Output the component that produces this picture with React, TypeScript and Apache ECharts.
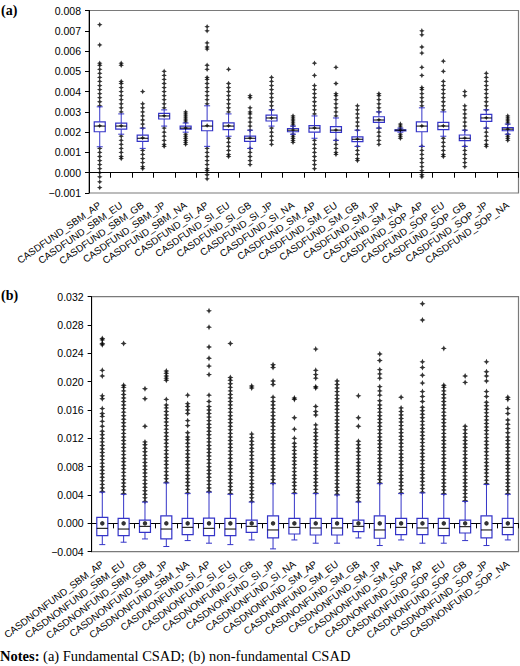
import React, { useEffect, useRef } from "react";
import * as echarts from "echarts";

// ---------- categories ----------
const catsA = [
  "CASDFUND_SBM_AP", "CASDFUND_SBM_EU", "CASDFUND_SBM_GB", "CASDFUND_SBM_JP", "CASDFUND_SBM_NA",
  "CASDFUND_SI_AP", "CASDFUND_SI_EU", "CASDFUND_SI_GB", "CASDFUND_SI_JP", "CASDFUND_SI_NA",
  "CASDFUND_SM_AP", "CASDFUND_SM_EU", "CASDFUND_SM_GB", "CASDFUND_SM_JP", "CASDFUND_SM_NA",
  "CASDFUND_SOP_AP", "CASDFUND_SOP_EU", "CASDFUND_SOP_GB", "CASDFUND_SOP_JP", "CASDFUND_SOP_NA",
];
const catsB = [
  "CASDNONFUND_SBM_AP", "CASDNONFUND_SBM_EU", "CASDNONFUND_SBM_GB", "CASDNONFUND_SBM_JP", "CASDNONFUND_SBM_NA",
  "CASDNONFUND_SI_AP", "CASDNONFUND_SI_EU", "CASDNONFUND_SI_GB", "CASDNONFUND_SI_JP", "CASDNONFUND_SI_NA",
  "CASDNONFUND_SM_AP", "CASDNONFUND_SM_EU", "CASDNONFUND_SM_GB", "CASDNONFUND_SM_JP", "CASDNONFUND_SM_NA",
  "CASDNONFUND_SOP_AP", "CASDNONFUND_SOP_EU", "CASDNONFUND_SOP_GB", "CASDNONFUND_SOP_JP", "CASDNONFUND_SOP_NA",
];

// ---------- (a) fundamental CSAD box statistics ----------
const lowA = [0.00128, 0.0019, 0.0012, 0.0023, 0.002, 0.0013, 0.0018, 0.0012, 0.0023, 0.0019, 0.0017, 0.0016, 0.0013, 0.0022, 0.002, 0.0013, 0.0018, 0.0013, 0.0022, 0.0019];
const q1A = [0.00202, 0.00215, 0.00155, 0.00265, 0.00215, 0.00207, 0.00213, 0.00155, 0.00255, 0.00202, 0.002, 0.00199, 0.00153, 0.00248, 0.00206, 0.00202, 0.00213, 0.00158, 0.00253, 0.00207];
const medA = [0.0023, 0.0023, 0.0017, 0.0028, 0.0022, 0.0023, 0.0023, 0.0017, 0.0027, 0.0021, 0.0022, 0.0021, 0.00165, 0.0026, 0.0021, 0.0023, 0.0023, 0.0017, 0.0027, 0.00215];
const q3A = [0.00251, 0.00245, 0.00185, 0.00293, 0.0023, 0.00256, 0.00246, 0.0018, 0.00284, 0.00218, 0.00232, 0.00227, 0.00177, 0.00276, 0.00212, 0.00251, 0.00248, 0.00186, 0.00288, 0.00222];
const highA = [0.00325, 0.0029, 0.0022, 0.0031, 0.00245, 0.0033, 0.0029, 0.0021, 0.0031, 0.0023, 0.0028, 0.0027, 0.0021, 0.003, 0.0022, 0.0032, 0.003, 0.0021, 0.0031, 0.0024];
const meanA = [0.00232, 0.00232, 0.00172, 0.00281, 0.00221, 0.00233, 0.00232, 0.00171, 0.0027, 0.00211, 0.00221, 0.00211, 0.00166, 0.00261, 0.0021, 0.00231, 0.00232, 0.00171, 0.00271, 0.00215];

const outA: number[][] = [
  [0.0033, 0.0035, 0.0037, 0.0039, 0.0041, 0.0043, 0.0045, 0.0047, 0.0049, 0.0051, 0.0053, 0.0054, 0.0063, 0.0073, 0.0012, 0.001, 0.0008, 0.0006, 0.0004, 0.0002, 0.0, -0.0002, -0.00045, -0.00073],
  [0.003, 0.0032, 0.0034, 0.0036, 0.0038, 0.004, 0.0042, 0.0044, 0.0045, 0.0053, 0.0054, 0.0018, 0.0016, 0.0014, 0.0012, 0.001, 0.0008, 0.0007],
  [0.0022, 0.0024, 0.0026, 0.0028, 0.003, 0.0032, 0.0034, 0.004, 0.0011, 0.0009, 0.0007, 0.0005, 0.0003, 0.0002],
  [0.0032, 0.0034, 0.0036, 0.0038, 0.004, 0.0042, 0.0044, 0.0046, 0.0048, 0.005, 0.0022, 0.002, 0.0018, 0.0016, 0.0014, 0.0013],
  [0.0025, 0.0026, 0.0027, 0.0028, 0.0029, 0.003, 0.0019, 0.0018, 0.0017, 0.0016, 0.0015, 0.0014],
  [0.0034, 0.0036, 0.0038, 0.004, 0.0042, 0.0044, 0.0046, 0.0047, 0.0051, 0.0053, 0.0061, 0.0062, 0.0064, 0.007, 0.0072, 0.0012, 0.001, 0.0008, 0.0006, 0.0004, 0.0002, 0.0001, -0.0001, -0.0003],
  [0.003, 0.0032, 0.0034, 0.0036, 0.0038, 0.004, 0.0042, 0.0044, 0.0051, 0.0017, 0.0015, 0.0013, 0.0011, 0.0009, 0.0008],
  [0.0021, 0.0023, 0.0025, 0.0027, 0.0029, 0.003, 0.0032, 0.0037, 0.0038, 0.0012, 0.001, 0.0008, 0.0006, 0.0004],
  [0.0031, 0.0033, 0.0035, 0.0037, 0.0039, 0.0041, 0.0043, 0.0045, 0.0047, 0.0022, 0.002, 0.0018, 0.0016, 0.0014],
  [0.0023, 0.0024, 0.0025, 0.0026, 0.0027, 0.0028, 0.0019, 0.0018, 0.0017, 0.0016, 0.0015],
  [0.0029, 0.0031, 0.0033, 0.0035, 0.0037, 0.0039, 0.0041, 0.0043, 0.0048, 0.0054, 0.0016, 0.0014, 0.0012, 0.001, 0.0008, 0.0006, 0.0004, 0.0002],
  [0.0028, 0.003, 0.0032, 0.0034, 0.0036, 0.0038, 0.0039, 0.0044, 0.0052, 0.0016, 0.0014, 0.0012, 0.001, 0.0009],
  [0.0021, 0.0023, 0.0025, 0.0027, 0.0029, 0.0031, 0.0033, 0.0013, 0.0011, 0.0009, 0.0007, 0.0006],
  [0.003, 0.0032, 0.0034, 0.0036, 0.0038, 0.0039, 0.0022, 0.002, 0.0018, 0.0016, 0.0014],
  [0.0022, 0.0023, 0.0024, 0.0019, 0.0018, 0.0017],
  [0.0033, 0.0035, 0.0037, 0.0039, 0.0041, 0.0042, 0.0048, 0.0052, 0.0059, 0.0062, 0.0068, 0.007, 0.0013, 0.0011, 0.0009, 0.0007, 0.0005, 0.0003, 0.0001, -0.0001, -0.0002],
  [0.0031, 0.0033, 0.0035, 0.0037, 0.0039, 0.0041, 0.0043, 0.0045, 0.005, 0.0055, 0.0017, 0.0015, 0.0013, 0.0011, 0.0009, 0.0008],
  [0.0021, 0.0023, 0.0025, 0.0027, 0.0029, 0.0031, 0.0033, 0.0038, 0.004, 0.0013, 0.0011, 0.0009, 0.0007, 0.0005, 0.0003],
  [0.0031, 0.0033, 0.0035, 0.0037, 0.0039, 0.0041, 0.0043, 0.0045, 0.0047, 0.0049, 0.0022, 0.002, 0.0018, 0.0016, 0.0014, 0.0013],
  [0.0024, 0.0025, 0.0026, 0.0027, 0.0028, 0.0019, 0.0018, 0.0017, 0.0016],
];

// ---------- (b) non-fundamental CSAD box statistics ----------
const lowB = [-0.003, -0.00266, -0.0022, -0.00327, -0.00243, -0.0028, -0.003, -0.00234, -0.0036, -0.00234, -0.0028, -0.0028, -0.00206, -0.00313, -0.00234, -0.0028, -0.0028, -0.00243, -0.00313, -0.00234];
const q1B = [-0.00173, -0.00173, -0.00126, -0.0022, -0.00159, -0.00173, -0.00173, -0.00126, -0.00206, -0.0015, -0.00164, -0.00164, -0.00117, -0.0021, -0.00159, -0.00159, -0.00173, -0.00136, -0.00206, -0.00159];
const medB = [-0.0007, -0.0008, -0.00042, -0.0008, -0.00056, -0.0007, -0.0008, -0.00042, -0.00093, -0.00056, -0.00065, -0.00065, -0.00042, -0.00093, -0.00056, -0.00065, -0.0007, -0.00047, -0.00093, -0.00056];
const q3B = [0.00084, 0.0007, 0.00047, 0.00107, 0.0007, 0.00075, 0.0007, 0.00047, 0.00107, 0.0007, 0.0007, 0.0007, 0.00047, 0.00107, 0.0007, 0.0007, 0.0007, 0.00047, 0.00107, 0.0007];
const highB = [0.0044, 0.0041, 0.003, 0.0057, 0.0042, 0.0044, 0.0041, 0.003, 0.0056, 0.0042, 0.0042, 0.004, 0.003, 0.0056, 0.0042, 0.0043, 0.0041, 0.0031, 0.0055, 0.0041];
const meanB = [0, 0, 0, 0, 0, 0, 0, 0, 0, 0, 0, 0, 0, 0, 0, 0, 0, 0, 0, 0];

const outB: number[][] = [
  [0.0045, 0.005, 0.0055, 0.006, 0.0065, 0.007, 0.0075, 0.008, 0.0085, 0.009, 0.0095, 0.01, 0.0105, 0.011, 0.0115, 0.012, 0.0125, 0.013, 0.0137, 0.0144, 0.0151, 0.0155, 0.0162, 0.0176, 0.018, 0.0208, 0.0216, 0.0252, 0.0254, 0.0259, 0.0261],
  [0.0042, 0.0047, 0.0052, 0.0057, 0.0062, 0.0067, 0.0072, 0.0077, 0.0082, 0.0087, 0.0092, 0.0097, 0.0102, 0.0107, 0.0112, 0.0117, 0.0122, 0.0127, 0.0132, 0.0137, 0.0142, 0.0147, 0.0152, 0.0157, 0.0162, 0.0167, 0.0172, 0.0177, 0.0182, 0.0187, 0.0192, 0.0195, 0.0254],
  [0.0031, 0.0036, 0.0041, 0.0046, 0.0051, 0.0056, 0.0061, 0.0066, 0.0071, 0.0076, 0.0081, 0.0086, 0.0091, 0.0096, 0.0101, 0.0106, 0.0111, 0.0115, 0.0137, 0.0176, 0.019],
  [0.0058, 0.0063, 0.0068, 0.0073, 0.0078, 0.0083, 0.0088, 0.0093, 0.0098, 0.0103, 0.0108, 0.0113, 0.0118, 0.0123, 0.0128, 0.0133, 0.0138, 0.0143, 0.0148, 0.0153, 0.0158, 0.0163, 0.0167, 0.0175, 0.0202, 0.0205, 0.0208, 0.0212, 0.0215],
  [0.0043, 0.0048, 0.0053, 0.0058, 0.0063, 0.0068, 0.0073, 0.0078, 0.0083, 0.0088, 0.0093, 0.0098, 0.0103, 0.0108, 0.0113, 0.0118, 0.0122, 0.0128, 0.0138, 0.0145, 0.0155, 0.016, 0.0165, 0.0169, 0.0181],
  [0.0045, 0.005, 0.0055, 0.006, 0.0065, 0.007, 0.0075, 0.008, 0.0085, 0.009, 0.0095, 0.01, 0.0105, 0.011, 0.0115, 0.012, 0.0125, 0.013, 0.0135, 0.014, 0.0145, 0.015, 0.0155, 0.016, 0.0165, 0.0172, 0.0181, 0.021, 0.0222, 0.0233, 0.0249, 0.0277, 0.03],
  [0.0042, 0.0047, 0.0052, 0.0057, 0.0062, 0.0067, 0.0072, 0.0077, 0.0082, 0.0087, 0.0092, 0.0097, 0.0102, 0.0107, 0.0112, 0.0117, 0.0122, 0.0127, 0.0132, 0.0137, 0.0142, 0.0147, 0.0152, 0.0157, 0.0162, 0.0167, 0.0172, 0.0177, 0.0182, 0.0187, 0.0192, 0.0197, 0.0202, 0.0206, 0.0254],
  [0.0031, 0.0036, 0.0041, 0.0046, 0.0051, 0.0056, 0.0061, 0.0066, 0.0071, 0.0076, 0.0081, 0.0086, 0.0091, 0.0096, 0.0101, 0.0106, 0.0111, 0.0116, 0.0121, 0.0126, 0.0191, 0.0194],
  [0.0057, 0.0062, 0.0067, 0.0072, 0.0077, 0.0082, 0.0087, 0.0092, 0.0097, 0.0102, 0.0107, 0.0112, 0.0117, 0.0122, 0.0127, 0.0132, 0.0137, 0.0142, 0.0147, 0.0152, 0.0157, 0.0162, 0.0167, 0.0172, 0.0178, 0.0196, 0.0201, 0.022, 0.0224],
  [0.0043, 0.0048, 0.0053, 0.0058, 0.0063, 0.0068, 0.0073, 0.0078, 0.0083, 0.0088, 0.0093, 0.0098, 0.0103, 0.0108, 0.0113, 0.012, 0.0133, 0.0149, 0.0175, 0.0177],
  [0.0043, 0.0048, 0.0053, 0.0058, 0.0063, 0.0068, 0.0073, 0.0078, 0.0083, 0.0088, 0.0093, 0.0098, 0.0103, 0.0108, 0.0113, 0.0118, 0.0123, 0.0128, 0.0133, 0.0139, 0.0153, 0.0158, 0.0165, 0.0191, 0.0193, 0.0205, 0.021, 0.0216, 0.0246],
  [0.0041, 0.0046, 0.0051, 0.0056, 0.0061, 0.0066, 0.0071, 0.0076, 0.0081, 0.0086, 0.0091, 0.0096, 0.0101, 0.0106, 0.0111, 0.0116, 0.0121, 0.0126, 0.0131, 0.0136, 0.0141, 0.0146, 0.0151, 0.0156, 0.0161, 0.0166, 0.0171, 0.0176, 0.0181, 0.0186, 0.0191, 0.0196, 0.0201],
  [0.0031, 0.0036, 0.0041, 0.0046, 0.0051, 0.0056, 0.0061, 0.0066, 0.0071, 0.0076, 0.0081, 0.0086, 0.0091, 0.0096, 0.0101, 0.0106, 0.0111, 0.0116, 0.0137, 0.0149, 0.018],
  [0.0057, 0.0062, 0.0067, 0.0072, 0.0077, 0.0082, 0.0087, 0.0092, 0.0097, 0.0102, 0.0107, 0.0112, 0.0117, 0.0122, 0.0127, 0.0132, 0.0137, 0.0142, 0.0147, 0.0152, 0.0157, 0.0162, 0.0167, 0.0173, 0.0181, 0.0187, 0.0193, 0.0205, 0.0211, 0.0217, 0.023, 0.0239],
  [0.0043, 0.0048, 0.0053, 0.0058, 0.0063, 0.0068, 0.0073, 0.0078, 0.0083, 0.0088, 0.0093, 0.0098, 0.0103, 0.0108, 0.0113, 0.0118, 0.0123, 0.0128, 0.0133, 0.0138, 0.0143, 0.0148, 0.0153, 0.0158, 0.0163, 0.0178],
  [0.0044, 0.0049, 0.0054, 0.0059, 0.0064, 0.0069, 0.0074, 0.0079, 0.0084, 0.0089, 0.0094, 0.0099, 0.0104, 0.0109, 0.0114, 0.0119, 0.0124, 0.0129, 0.0134, 0.0139, 0.0144, 0.0149, 0.0154, 0.0159, 0.0164, 0.0172, 0.0179, 0.0186, 0.0198, 0.0209, 0.022, 0.0228, 0.0287, 0.031],
  [0.0042, 0.0047, 0.0052, 0.0057, 0.0062, 0.0067, 0.0072, 0.0077, 0.0082, 0.0087, 0.0092, 0.0097, 0.0102, 0.0107, 0.0112, 0.0117, 0.0122, 0.0127, 0.0132, 0.0137, 0.0142, 0.0147, 0.0152, 0.0157, 0.0162, 0.0167, 0.0172, 0.0177, 0.0182, 0.0187, 0.0192, 0.0195, 0.0247],
  [0.0032, 0.0037, 0.0042, 0.0047, 0.0052, 0.0057, 0.0062, 0.0067, 0.0072, 0.0077, 0.0082, 0.0087, 0.0092, 0.0097, 0.0102, 0.0107, 0.0112, 0.0117, 0.0122, 0.0127, 0.0132, 0.0137, 0.0199, 0.0208],
  [0.0056, 0.0061, 0.0066, 0.0071, 0.0076, 0.0081, 0.0086, 0.0091, 0.0096, 0.0101, 0.0106, 0.0111, 0.0116, 0.0121, 0.0126, 0.0131, 0.0136, 0.0141, 0.0146, 0.0151, 0.0156, 0.0161, 0.0166, 0.0171, 0.0179, 0.0186, 0.0201, 0.0208, 0.0214, 0.0228],
  [0.0042, 0.0047, 0.0052, 0.0057, 0.0062, 0.0067, 0.0072, 0.0077, 0.0082, 0.0087, 0.0092, 0.0097, 0.0102, 0.0107, 0.0112, 0.0117, 0.0122, 0.0128, 0.0134, 0.014, 0.0146, 0.0155, 0.0162, 0.0175, 0.0178],
];

// ---------- styling ----------
const BLUE = "#3434c8";
const SANS = "'Liberation Sans', Arial, Helvetica, sans-serif";
const SERIF = "'Liberation Serif', 'Times New Roman', serif";
// four-pointed star with a fat centre, used for outliers and means
const STAR = "path://M5,0 L6.6,3.4 L10,5 L6.6,6.6 L5,10 L3.4,6.6 L0,5 L3.4,3.4 Z";

const fmtTick = (v: number) => {
  if (Math.abs(v) < 1e-12) return "0.000";
  return (v < 0 ? "\u2212" : "") + Math.abs(v).toFixed(3);
};

function renderBox(_params: any, api: any) {
  const x = api.value(0);
  const lo = api.coord([x, api.value(1)]);
  const q1 = api.coord([x, api.value(2)]);
  const md = api.coord([x, api.value(3)]);
  const q3 = api.coord([x, api.value(4)]);
  const hi = api.coord([x, api.value(5)]);
  const cx = lo[0];
  const hw = 5.5;
  const cap = 3;
  const line = { stroke: BLUE, lineWidth: 1 };
  return {
    type: "group",
    children: [
      { type: "line", shape: { x1: cx, y1: hi[1], x2: cx, y2: q3[1] }, style: line },
      { type: "line", shape: { x1: cx, y1: q1[1], x2: cx, y2: lo[1] }, style: line },
      { type: "line", shape: { x1: cx - cap, y1: hi[1], x2: cx + cap, y2: hi[1] }, style: line },
      { type: "line", shape: { x1: cx - cap, y1: lo[1], x2: cx + cap, y2: lo[1] }, style: line },
      {
        type: "rect",
        shape: { x: cx - hw, y: q3[1], width: hw * 2, height: Math.max(q1[1] - q3[1], 1) },
        style: { fill: "#ffffff", stroke: BLUE, lineWidth: 1.2 },
      },
      { type: "line", shape: { x1: cx - hw, y1: md[1], x2: cx + hw, y2: md[1] }, style: { stroke: "#000", lineWidth: 1 } },
    ],
  };
}

const catAxis = (gridIndex: number, data: string[], rotate: number, margin: number) => ({
  type: "category",
  gridIndex,
  data,
  boundaryGap: true,
  axisLine: { lineStyle: { color: "#000", width: 1 } },
  axisTick: { show: true, alignWithLabel: false, length: 5, lineStyle: { color: "#000" } },
  axisLabel: { interval: 0, rotate, margin, fontSize: 9.8, fontFamily: SANS, color: "#000" },
  splitLine: { show: false },
});

const valAxis = (gridIndex: number, min: number, max: number, interval: number) => ({
  type: "value",
  gridIndex,
  min,
  max,
  interval,
  axisLine: { show: true, lineStyle: { color: "#000", width: 1 } },
  axisTick: { show: true, length: 4, lineStyle: { color: "#000" } },
  axisLabel: { fontSize: 10.5, fontFamily: SANS, color: "#000", margin: 8, formatter: fmtTick },
  splitLine: { show: false },
});

export default function App() {
  const ref = useRef<HTMLDivElement>(null);

  useEffect(() => {
    document.body.style.margin = "0";
    if (!ref.current) return;
    const chart = echarts.init(ref.current, null, { renderer: "svg" });

    const boxDataA = catsA.map((_, i) => [i, lowA[i], q1A[i], medA[i], q3A[i], highA[i]]);
    const boxDataB = catsB.map((_, i) => [i, lowB[i], q1B[i], medB[i], q3B[i], highB[i]]);
    const outDataA = outA.flatMap((vals, i) => vals.map((v) => [i, v]));
    const outDataB = outB.flatMap((vals, i) => vals.map((v) => [i, v]));
    const meanDataA = meanA.map((v, i) => [i, v]);
    const meanDataB = meanB.map((v, i) => [i, v]);

    chart.setOption({
      animation: false,
      backgroundColor: "#fff",
      grid: [
        { left: 89, right: 1.5, top: 10.5, height: 182.5, show: true, borderColor: "#7a7a7a", borderWidth: 1.2, backgroundColor: "transparent" },
        { left: 89, right: 1.5, top: 296.7, height: 255, show: true, borderColor: "#7a7a7a", borderWidth: 1.2, backgroundColor: "transparent" },
      ],
      xAxis: [catAxis(0, catsA, 35, 11), catAxis(1, catsB, 37, 11)],
      yAxis: [valAxis(0, -0.001, 0.008, 0.001), valAxis(1, -0.004, 0.032, 0.004)],
      series: [
        {
          type: "scatter", xAxisIndex: 0, yAxisIndex: 0, data: outDataA,
          symbol: STAR, symbolSize: 5.5, itemStyle: { color: "#000" }, z: 2,
        },
        {
          type: "custom", xAxisIndex: 0, yAxisIndex: 0, data: boxDataA,
          renderItem: renderBox, encode: { x: 0, y: [1, 2, 3, 4, 5] }, z: 3,
        },
        {
          type: "scatter", xAxisIndex: 0, yAxisIndex: 0, data: meanDataA,
          symbol: STAR, symbolSize: 5, itemStyle: { color: "#000" }, z: 4,
        },
        {
          type: "scatter", xAxisIndex: 1, yAxisIndex: 1, data: outDataB,
          symbol: STAR, symbolSize: 6, itemStyle: { color: "#000" }, z: 2,
        },
        {
          type: "custom", xAxisIndex: 1, yAxisIndex: 1, data: boxDataB,
          renderItem: renderBox, encode: { x: 0, y: [1, 2, 3, 4, 5] }, z: 3,
        },
        {
          type: "scatter", xAxisIndex: 1, yAxisIndex: 1, data: meanDataB,
          symbol: "circle", symbolSize: 4.5, itemStyle: { color: "#000" }, z: 4,
        },
      ],
      graphic: [
        { type: "text", left: 1, top: 3, style: { text: "(a)", font: `bold 14px ${SERIF}`, fill: "#000" } },
        { type: "text", left: 1, top: 288, style: { text: "(b)", font: `bold 14px ${SERIF}`, fill: "#000" } },
        {
          type: "text", left: 0, top: 648,
          style: {
            text: "{b|Notes:} (a) Fundamental CSAD; (b) non-fundamental CSAD",
            fontFamily: SERIF, fontSize: 14.5, fill: "#000",
            rich: { b: { fontWeight: "bold", fontFamily: SERIF, fontSize: 14.5, fill: "#000" } },
          },
        },
      ],
    });

    return () => chart.dispose();
  }, []);

  return <div ref={ref} style={{ width: 520, height: 666 }} />;
}
